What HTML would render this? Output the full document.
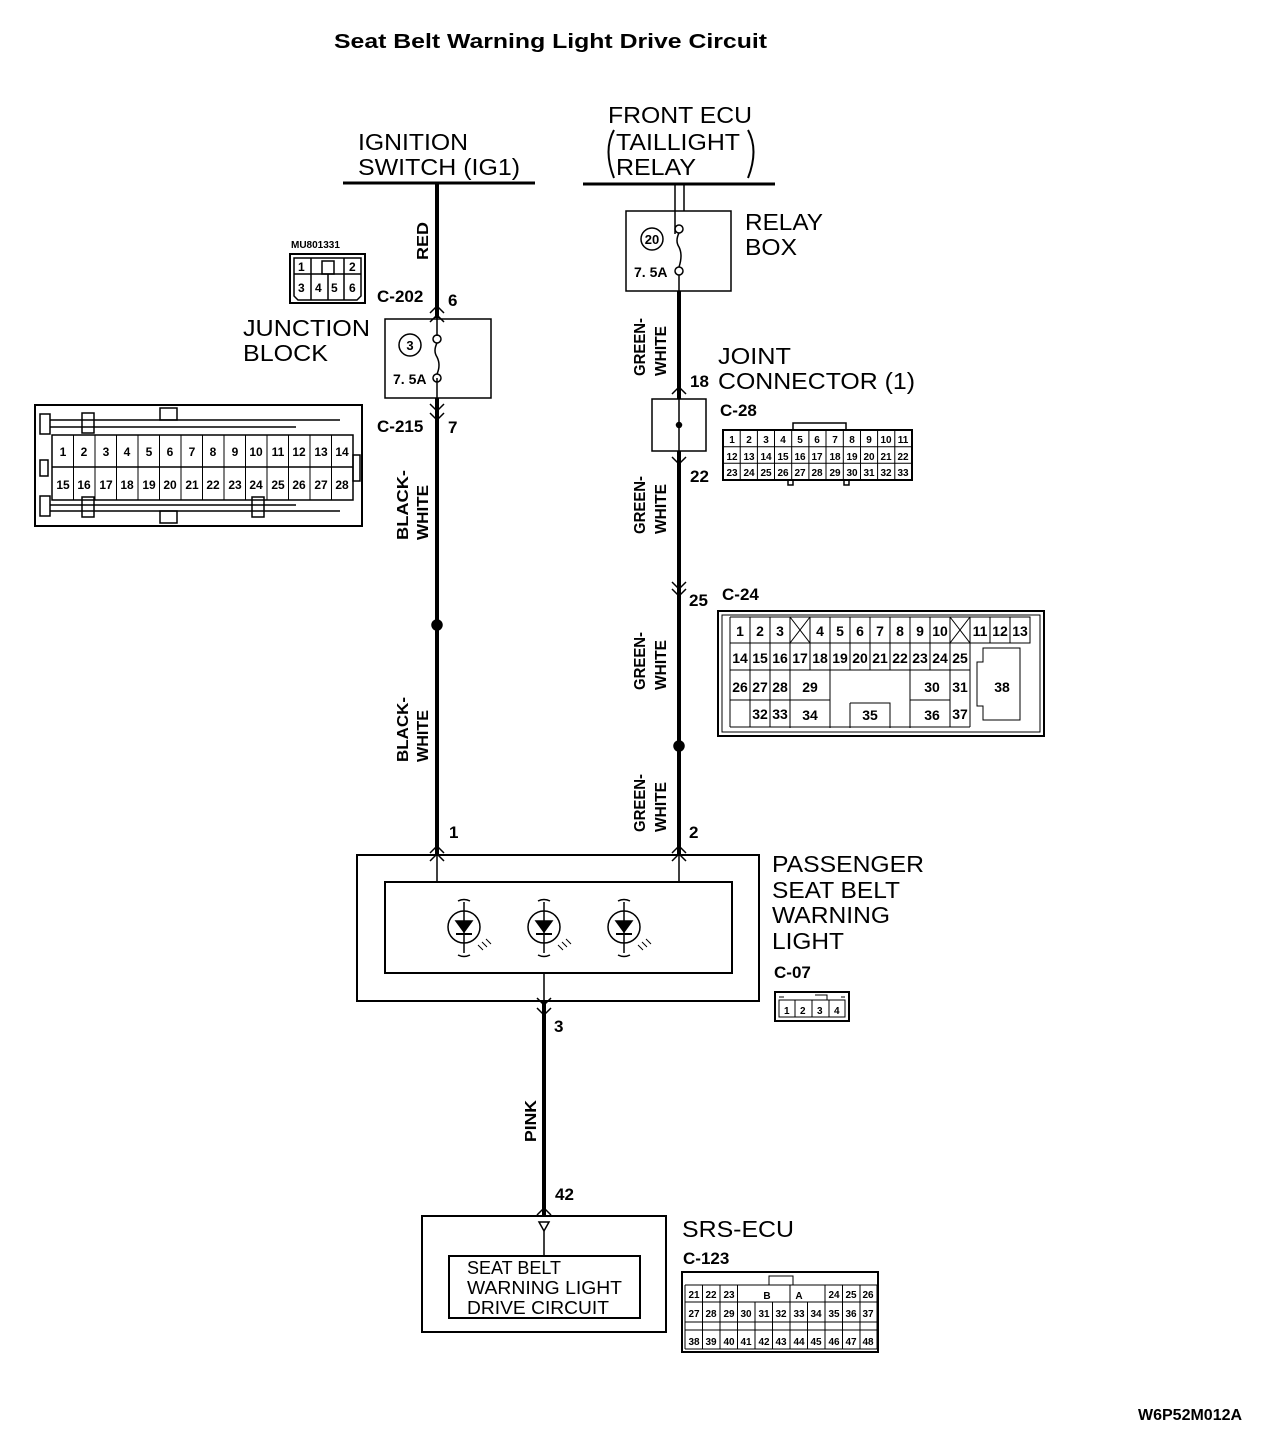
<!DOCTYPE html>
<html><head><meta charset="utf-8"><style>
html,body{margin:0;padding:0;background:#fff;}
svg{display:block;}
text{font-family:"Liberation Sans",sans-serif;fill:#000;}
.b{font-weight:bold;}
.lb{font-size:23px;}
.sm{font-size:12px;font-weight:bold;}
.xs{font-size:10px;font-weight:bold;}
</style></head><body>
<svg width="1280" height="1450" viewBox="0 0 1280 1450" xmlns="http://www.w3.org/2000/svg" stroke="#000" fill="none" stroke-width="1.5">
<g stroke="none">
<text x="334" y="48" class="b" font-size="20" textLength="433" lengthAdjust="spacingAndGlyphs">Seat Belt Warning Light Drive Circuit</text>
<text x="358" y="150" class="lb" textLength="110" lengthAdjust="spacingAndGlyphs">IGNITION</text>
<text x="358" y="175" class="lb" textLength="162" lengthAdjust="spacingAndGlyphs">SWITCH (IG1)</text>
<text x="608" y="123" class="lb" textLength="144" lengthAdjust="spacingAndGlyphs">FRONT ECU</text>
<text x="616" y="150" class="lb" textLength="124" lengthAdjust="spacingAndGlyphs">TAILLIGHT</text>
<text x="616" y="175" class="lb" textLength="80" lengthAdjust="spacingAndGlyphs">RELAY</text>
<text x="745" y="230" class="lb" textLength="78" lengthAdjust="spacingAndGlyphs">RELAY</text>
<text x="745" y="255" class="lb" textLength="52" lengthAdjust="spacingAndGlyphs">BOX</text>
<text x="243" y="336" class="lb" textLength="127" lengthAdjust="spacingAndGlyphs">JUNCTION</text>
<text x="243" y="361" class="lb" textLength="85" lengthAdjust="spacingAndGlyphs">BLOCK</text>
<text x="718" y="364" class="lb" textLength="73" lengthAdjust="spacingAndGlyphs">JOINT</text>
<text x="718" y="389" class="lb" textLength="197" lengthAdjust="spacingAndGlyphs">CONNECTOR (1)</text>
<text x="772" y="872" class="lb" textLength="152" lengthAdjust="spacingAndGlyphs">PASSENGER</text>
<text x="772" y="898" class="lb" textLength="128" lengthAdjust="spacingAndGlyphs">SEAT BELT</text>
<text x="772" y="923" class="lb" textLength="118" lengthAdjust="spacingAndGlyphs">WARNING</text>
<text x="772" y="949" class="lb" textLength="72" lengthAdjust="spacingAndGlyphs">LIGHT</text>
<text x="682" y="1237" class="lb" textLength="112" lengthAdjust="spacingAndGlyphs">SRS-ECU</text>
<text x="467" y="1274" font-size="18">SEAT BELT</text>
<text x="467" y="1294" font-size="18" textLength="155" lengthAdjust="spacingAndGlyphs">WARNING LIGHT</text>
<text x="467" y="1314" font-size="18" textLength="142" lengthAdjust="spacingAndGlyphs">DRIVE CIRCUIT</text>
<g class="b" font-size="17">
<text x="377" y="302">C-202</text><text x="448" y="306">6</text>
<text x="377" y="432">C-215</text><text x="448" y="433">7</text>
<text x="690" y="387">18</text>
<text x="720" y="416">C-28</text>
<text x="690" y="482">22</text>
<text x="689" y="606">25</text>
<text x="722" y="600">C-24</text>
<text x="449" y="838">1</text><text x="689" y="838">2</text>
<text x="774" y="978">C-07</text>
<text x="554" y="1032">3</text>
<text x="555" y="1200">42</text>
<text x="683" y="1264">C-123</text>
<text x="1138" y="1420" font-size="16">W6P52M012A</text>
</g>
<g class="b" font-size="16">
<text transform="translate(428,260) rotate(-90)" textLength="38" lengthAdjust="spacingAndGlyphs">RED</text>
<text transform="translate(408,540) rotate(-90)" textLength="70" lengthAdjust="spacingAndGlyphs">BLACK-</text>
<text transform="translate(428,540) rotate(-90)" textLength="55" lengthAdjust="spacingAndGlyphs">WHITE</text>
<text transform="translate(408,762) rotate(-90)" textLength="65" lengthAdjust="spacingAndGlyphs">BLACK-</text>
<text transform="translate(428,762) rotate(-90)" textLength="52" lengthAdjust="spacingAndGlyphs">WHITE</text>
<text transform="translate(645,376) rotate(-90)" textLength="58" lengthAdjust="spacingAndGlyphs">GREEN-</text>
<text transform="translate(666,376) rotate(-90)" textLength="50" lengthAdjust="spacingAndGlyphs">WHITE</text>
<text transform="translate(645,534) rotate(-90)" textLength="58" lengthAdjust="spacingAndGlyphs">GREEN-</text>
<text transform="translate(666,534) rotate(-90)" textLength="50" lengthAdjust="spacingAndGlyphs">WHITE</text>
<text transform="translate(645,690) rotate(-90)" textLength="58" lengthAdjust="spacingAndGlyphs">GREEN-</text>
<text transform="translate(666,690) rotate(-90)" textLength="50" lengthAdjust="spacingAndGlyphs">WHITE</text>
<text transform="translate(645,832) rotate(-90)" textLength="58" lengthAdjust="spacingAndGlyphs">GREEN-</text>
<text transform="translate(666,832) rotate(-90)" textLength="50" lengthAdjust="spacingAndGlyphs">WHITE</text>
<text transform="translate(536,1142) rotate(-90)" textLength="42" lengthAdjust="spacingAndGlyphs">PINK</text>
</g>
<text x="410" y="350" class="b" font-size="13" text-anchor="middle">3</text>
<text x="393" y="384" class="b" font-size="14">7. 5A</text>
<text x="652" y="244" class="b" font-size="13" text-anchor="middle">20</text>
<text x="634" y="277" class="b" font-size="14">7. 5A</text>
</g>
<path d="M614 130 Q603 150 614 178" stroke-width="2"/>
<path d="M748 130 Q759 150 748 178" stroke-width="2"/>
<line x1="343" y1="183" x2="535" y2="183" stroke-width="3"/>
<line x1="583" y1="184" x2="775" y2="184" stroke-width="3"/>
<line x1="437" y1="183" x2="437" y2="318" stroke-width="4"/>
<line x1="437" y1="398" x2="437" y2="855" stroke-width="4"/>
<line x1="437" y1="318" x2="437" y2="336" />
<line x1="437" y1="378" x2="437" y2="398" />
<rect x="385" y="319" width="106" height="79"/>
<circle cx="437" cy="339" r="4"/><circle cx="437" cy="378" r="4"/>
<path d="M437 343 q-4 8 0 14 q4 8 0 17"/>
<circle cx="410" cy="345" r="11"/>
<line x1="675" y1="184" x2="675" y2="234"/><line x1="684" y1="184" x2="684" y2="211"/>
<rect x="626" y="211" width="105" height="80"/>
<circle cx="679" cy="229" r="4"/><circle cx="679" cy="271" r="4"/>
<path d="M679 233 q-4 8 0 14 q4 8 0 20"/>
<circle cx="652" cy="239" r="11"/>
<line x1="679" y1="275" x2="679" y2="291"/>
<line x1="679" y1="291" x2="679" y2="399" stroke-width="4"/>
<rect x="652" y="399" width="54" height="52"/>
<line x1="679" y1="399" x2="679" y2="451"/>
<circle cx="679" cy="425" r="2.5" fill="#000"/>
<line x1="679" y1="451" x2="679" y2="855" stroke-width="4"/>
<circle cx="437" cy="625" r="5" fill="#000"/>
<circle cx="679" cy="746" r="5" fill="#000"/>
<g stroke-width="1.5">
<path d="M430 313 l7 -7 l7 7 M430 322 l7 -7 l7 7"/>
<path d="M430 404 l7 7 l7 -7 M430 413 l7 7 l7 -7"/>
<path d="M672 394 l7 -7 l7 7"/>
<path d="M672 457 l7 7 l7 -7"/>
<path d="M672 582 l7 7 l7 -7 M672 589 l7 7 l7 -7"/>
<path d="M430 853 l7 -7 l7 7 M430 861 l7 -7 l7 7"/>
<path d="M672 853 l7 -7 l7 7 M672 861 l7 -7 l7 7"/>
<path d="M537 998 l7 7 l7 -7 M537 1008 l7 7 l7 -7"/>
<path d="M537 1215 l7 -7 l7 7"/>
</g>
<rect x="357" y="855" width="402" height="146" stroke-width="2"/>
<rect x="385" y="882" width="347" height="91" stroke-width="2"/>
<line x1="437" y1="855" x2="437" y2="882"/><line x1="679" y1="855" x2="679" y2="882"/>
<line x1="544" y1="973" x2="544" y2="1001"/>
<line x1="544" y1="1001" x2="544" y2="1215" stroke-width="4"/>
<g id="led">
<circle cx="464" cy="927" r="16"/>
<line x1="464" y1="902" x2="464" y2="953"/>
<path d="M458 901 q6 -3 12 0 M458 955 q6 3 12 0"/>
<path d="M456 921 h16 l-8 11 z" fill="#000"/>
<line x1="456" y1="934" x2="472" y2="934" stroke-width="2"/>
<path d="M478 945 l5 5 M482 942 l5 5 M486 939 l5 5" stroke-width="1"/>
</g>
<use href="#led" x="80"/><use href="#led" x="160"/>
<rect x="422" y="1216" width="244" height="116" stroke-width="2"/>
<rect x="449" y="1256" width="191" height="62" stroke-width="2"/>
<path d="M539 1222 h10 l-5 9 z"/><line x1="544" y1="1231" x2="544" y2="1256"/>
<text x="291" y="248" class="xs" stroke="none" fill="#000">MU801331</text>
<rect x="290" y="254" width="75" height="49" stroke-width="2"/>
<path d="M294 258 h67 v38 l-4 4 h-59 l-4 -4 z"/>
<line x1="294" y1="274" x2="361" y2="274"/>
<line x1="311" y1="258" x2="311" y2="300"/><line x1="328" y1="274" x2="328" y2="300"/><line x1="344" y1="258" x2="344" y2="300"/>
<rect x="322" y="261" width="12" height="13"/>
<g class="sm" stroke="none" fill="#000"><text x="298" y="271">1</text><text x="349" y="271">2</text><text x="298" y="292">3</text><text x="315" y="292">4</text><text x="331" y="292">5</text><text x="349" y="292">6</text></g>
<rect x="35" y="405" width="327" height="121" stroke-width="2"/>
<rect x="40" y="414" width="10" height="20"/><rect x="40" y="496" width="10" height="20"/><rect x="40" y="460" width="8" height="16"/>
<rect x="82" y="413" width="12" height="20"/><rect x="82" y="497" width="12" height="20"/>
<rect x="160" y="408" width="17" height="12"/><rect x="160" y="511" width="17" height="12"/>
<rect x="252" y="497" width="12" height="20"/>
<line x1="50" y1="420" x2="340" y2="420"/><line x1="50" y1="427" x2="296" y2="427"/>
<line x1="50" y1="511" x2="340" y2="511"/><line x1="50" y1="505" x2="296" y2="505"/>
<rect x="353" y="455" width="7" height="26"/>
<rect x="52" y="435" width="301" height="65"/>
<line x1="52" y1="467" x2="353" y2="467"/>
<g stroke-width="1">
<path d="M73.5 435v65M95 435v65M116.5 435v65M138 435v65M159.5 435v65M181 435v65M202.5 435v65M224 435v65M245.5 435v65M267 435v65M288.5 435v65M310 435v65M331.5 435v65"/>
</g>
<g class="sm" stroke="none" fill="#000" text-anchor="middle">
<text x="63" y="456">1</text><text x="84" y="456">2</text><text x="106" y="456">3</text><text x="127" y="456">4</text><text x="149" y="456">5</text><text x="170" y="456">6</text><text x="192" y="456">7</text><text x="213" y="456">8</text><text x="235" y="456">9</text><text x="256" y="456">10</text><text x="278" y="456">11</text><text x="299" y="456">12</text><text x="321" y="456">13</text><text x="342" y="456">14</text>
<text x="63" y="489">15</text><text x="84" y="489">16</text><text x="106" y="489">17</text><text x="127" y="489">18</text><text x="149" y="489">19</text><text x="170" y="489">20</text><text x="192" y="489">21</text><text x="213" y="489">22</text><text x="235" y="489">23</text><text x="256" y="489">24</text><text x="278" y="489">25</text><text x="299" y="489">26</text><text x="321" y="489">27</text><text x="342" y="489">28</text>
</g>
<rect x="793" y="423" width="53" height="7"/>
<rect x="788" y="480" width="5" height="5"/><rect x="844" y="480" width="5" height="5"/>
<rect x="723" y="430" width="189" height="50" stroke-width="2"/>
<path d="M723 446.7h189M723 463.3h189" stroke-width="1"/>
<path d="M740.2 430v50M757.4 430v50M774.5 430v50M791.7 430v50M808.9 430v50M826 430v50M843.3 430v50M860.5 430v50M877.6 430v50M894.8 430v50" stroke-width="1"/>
<g class="xs" stroke="none" fill="#000" text-anchor="middle">
<text x="732" y="443">1</text><text x="749" y="443">2</text><text x="766" y="443">3</text><text x="783" y="443">4</text><text x="800" y="443">5</text><text x="817" y="443">6</text><text x="835" y="443">7</text><text x="852" y="443">8</text><text x="869" y="443">9</text><text x="886" y="443">10</text><text x="903" y="443">11</text>
<text x="732" y="460">12</text><text x="749" y="460">13</text><text x="766" y="460">14</text><text x="783" y="460">15</text><text x="800" y="460">16</text><text x="817" y="460">17</text><text x="835" y="460">18</text><text x="852" y="460">19</text><text x="869" y="460">20</text><text x="886" y="460">21</text><text x="903" y="460">22</text>
<text x="732" y="476">23</text><text x="749" y="476">24</text><text x="766" y="476">25</text><text x="783" y="476">26</text><text x="800" y="476">27</text><text x="817" y="476">28</text><text x="835" y="476">29</text><text x="852" y="476">30</text><text x="869" y="476">31</text><text x="886" y="476">32</text><text x="903" y="476">33</text>
</g>
<rect x="718" y="611" width="326" height="125" stroke-width="2"/>
<rect x="722" y="615" width="318" height="117" stroke-width="1"/>
<g stroke-width="1">
<path d="M730 617h240M730 643h240M730 670h240M730 617v110M750 617v110M770 617v110M790 617v110M810 617v26M830 617v26M850 617v26M870 617v26M890 617v26M910 617v26M930 617v26M950 617v110M970 617v110"/>
<path d="M970 617h60v26h-60M990 617v26M1010 617v26M810 643v27M830 643v27M850 643v27M870 643v27M890 643v27M910 643v27M930 643v27"/>
<path d="M790 670v58M830 670v58M790 700h40M910 670v58M910 700h40M850 703h40v25M850 703v25M730 700h60M730 727h240"/>
<path d="M790 617l20 26M810 617l-20 26M950 617l20 26M970 617l-20 26"/>
<path d="M983 648h37v72h-37v-14h-6v-44h6z"/>
</g>
<g class="b" font-size="14" stroke="none" fill="#000" text-anchor="middle">
<text x="740" y="636">1</text><text x="760" y="636">2</text><text x="780" y="636">3</text><text x="820" y="636">4</text><text x="840" y="636">5</text><text x="860" y="636">6</text><text x="880" y="636">7</text><text x="900" y="636">8</text><text x="920" y="636">9</text><text x="940" y="636">10</text><text x="980" y="636">11</text><text x="1000" y="636">12</text><text x="1020" y="636">13</text>
<text x="740" y="663">14</text><text x="760" y="663">15</text><text x="780" y="663">16</text><text x="800" y="663">17</text><text x="820" y="663">18</text><text x="840" y="663">19</text><text x="860" y="663">20</text><text x="880" y="663">21</text><text x="900" y="663">22</text><text x="920" y="663">23</text><text x="940" y="663">24</text><text x="960" y="663">25</text>
<text x="740" y="692">26</text><text x="760" y="692">27</text><text x="780" y="692">28</text><text x="810" y="692">29</text><text x="932" y="692">30</text><text x="960" y="692">31</text><text x="1002" y="692">38</text>
<text x="760" y="719">32</text><text x="780" y="719">33</text><text x="810" y="720">34</text><text x="870" y="720">35</text><text x="932" y="720">36</text><text x="960" y="719">37</text>
</g>
<rect x="775" y="992" width="74" height="29" stroke-width="2"/>
<path d="M779 997h5M815 995h12v5M841 997h4" stroke-width="1"/>
<path d="M779 1000h66v17h-66zM795 1000v17M812 1000v17M829 1000v17" stroke-width="1"/>
<g class="xs" stroke="none" fill="#000"><text x="784" y="1014">1</text><text x="800" y="1014">2</text><text x="817" y="1014">3</text><text x="834" y="1014">4</text></g>
<rect x="682" y="1272" width="196" height="80" stroke-width="2"/>
<rect x="769" y="1276" width="24" height="9" stroke-width="1"/>
<g stroke-width="1">
<path d="M685 1285h192M685 1302h192M685 1322h192M685 1330h192M685 1349h192"/>
<path d="M685 1285v64M702.5 1285v64M720 1285v64M737.5 1285v64M755 1302v47M772.5 1302v47M790 1302v47M807.5 1302v47M825 1285v64M842.5 1285v64M860 1285v64M877 1285v64M790 1285v17"/>
</g>
<g class="xs" stroke="none" fill="#000" text-anchor="middle">
<text x="694" y="1298">21</text><text x="711" y="1298">22</text><text x="729" y="1298">23</text><text x="767" y="1299">B</text><text x="799" y="1299">A</text><text x="834" y="1298">24</text><text x="851" y="1298">25</text><text x="868" y="1298">26</text>
<text x="694" y="1317">27</text><text x="711" y="1317">28</text><text x="729" y="1317">29</text><text x="746" y="1317">30</text><text x="764" y="1317">31</text><text x="781" y="1317">32</text><text x="799" y="1317">33</text><text x="816" y="1317">34</text><text x="834" y="1317">35</text><text x="851" y="1317">36</text><text x="868" y="1317">37</text>
<text x="694" y="1345">38</text><text x="711" y="1345">39</text><text x="729" y="1345">40</text><text x="746" y="1345">41</text><text x="764" y="1345">42</text><text x="781" y="1345">43</text><text x="799" y="1345">44</text><text x="816" y="1345">45</text><text x="834" y="1345">46</text><text x="851" y="1345">47</text><text x="868" y="1345">48</text>
</g>
</svg>
</body></html>
